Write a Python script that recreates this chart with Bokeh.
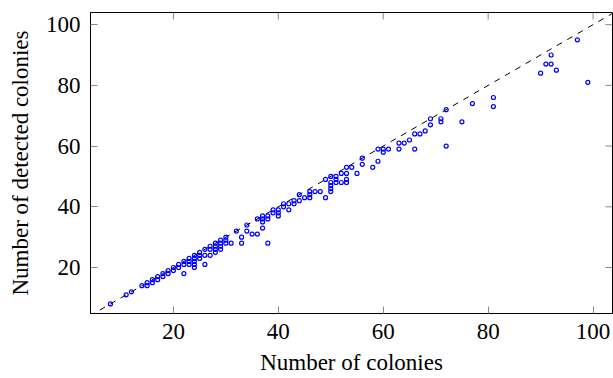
import math
from bokeh.plotting import figure
from bokeh.models import Range1d, FixedTicker, ColumnDataSource
from bokeh.embed import file_html
from bokeh.resources import INLINE

# (number of colonies, detected colonies)
colonies = [
    8, 11, 12, 14, 15, 15, 16, 16, 17, 17, 18, 18, 19, 19, 20, 20, 21, 21,
    22, 22, 22, 23, 23, 23, 24, 24, 24, 24, 24, 25, 25, 25, 26, 26, 26,
    27, 27, 27, 28, 28, 28, 28, 29, 29, 29, 29, 30, 30, 30, 31, 32, 33, 33,
    34, 34, 35, 36, 36, 37, 37, 37, 37, 38, 38, 38, 39, 39, 40, 40, 40,
    41, 41, 42, 42, 43, 43, 44, 44, 45, 46, 46, 46, 47, 48, 49, 49,
    50, 50, 50, 50, 50, 51, 51, 51, 52, 52, 53, 53, 53, 53, 54, 55, 56, 56,
    58, 59, 59, 60, 60, 61, 63, 63, 64, 65, 66, 66, 67, 68, 69, 69, 71, 71,
    72, 72, 75, 77, 81, 81, 90, 91, 92, 92, 93, 97, 99,
]
detected = [
    8, 11, 12, 14, 15, 14, 16, 15, 17, 16, 18, 17, 19, 18, 20, 19, 21, 20,
    22, 21, 18, 23, 22, 21, 24, 23, 22, 21, 20, 25, 24, 23, 26, 24, 21,
    27, 26, 24, 28, 27, 26, 25, 29, 28, 27, 26, 30, 29, 28, 28, 32, 30, 28,
    34, 32, 31, 36, 31, 37, 36, 35, 33, 37, 36, 28, 39, 38, 39, 38, 37,
    41, 40, 41, 39, 42, 41, 44, 42, 43, 45, 44, 43, 45, 45, 49, 43,
    50, 48, 47, 46, 45, 50, 49, 48, 51, 48, 53, 51, 49, 48, 53, 51, 56, 54,
    53, 59, 55, 59, 58, 59, 61, 59, 61, 62, 64, 59, 64, 65, 69, 67, 69, 68,
    72, 60, 68, 74, 76, 73, 84, 87, 90, 87, 85, 95, 81,
]
x_ticks = [20, 40, 60, 80, 100]
y_ticks = [20, 40, 60, 80, 100]
diag = [4, 104]

X_MIN, X_MAX = 4.2, 103.7
Y_MIN, Y_MAX = 4.85, 104.0

FONT = "Liberation Serif"
FS = "23px"
TICK_COLOR = "#888888"

p = figure(width=613, height=378, output_backend="svg", toolbar_location=None,
           x_range=Range1d(X_MIN, X_MAX), y_range=Range1d(Y_MIN, Y_MAX),
           min_border_left=90, min_border_right=1, min_border_top=12,
           min_border_bottom=65)
p.background_fill_color = "white"
p.border_fill_color = "white"
p.outline_line_color = "black"
p.outline_line_width = 1
p.xgrid.visible = False
p.ygrid.visible = False

for ax, ticks in ((p.xaxis[0], x_ticks), (p.yaxis[0], y_ticks)):
    ax.ticker = FixedTicker(ticks=ticks)
    ax.major_tick_in = 7
    ax.major_tick_out = 0
    ax.minor_tick_line_color = None
    ax.major_tick_line_color = TICK_COLOR
    ax.axis_line_color = "black"
    ax.major_label_text_font = FONT
    ax.major_label_text_font_size = FS
    ax.major_label_text_color = "black"
    ax.axis_label_text_font = FONT
    ax.axis_label_text_font_size = FS
    ax.axis_label_text_font_style = "normal"
    ax.axis_label_text_color = "black"
    ax.major_label_standoff = 10

p.xaxis.axis_label = "Number of colonies"
p.yaxis.axis_label = "Number of detected colonies"
p.xaxis.axis_label_standoff = 8
p.yaxis.axis_label_standoff = 10

# mirrored inward ticks on the right and top edges of the box
p.ray(x=[X_MAX] * len(y_ticks), y=y_ticks, length=7, length_units="screen",
      angle=math.pi, line_color=TICK_COLOR, line_width=1)
p.ray(x=x_ticks, y=[Y_MAX] * len(x_ticks), length=7, length_units="screen",
      angle=-math.pi / 2, line_color=TICK_COLOR, line_width=1)

p.line(diag, diag, line_color="black", line_width=1, line_dash="6 6")

src = ColumnDataSource(data=dict(x=colonies, y=detected))
p.scatter("x", "y", source=src, marker="circle", size=4,
          line_color="blue", line_width=1.2, fill_color=None)

open("out.html", "w").write(file_html(p, INLINE))
